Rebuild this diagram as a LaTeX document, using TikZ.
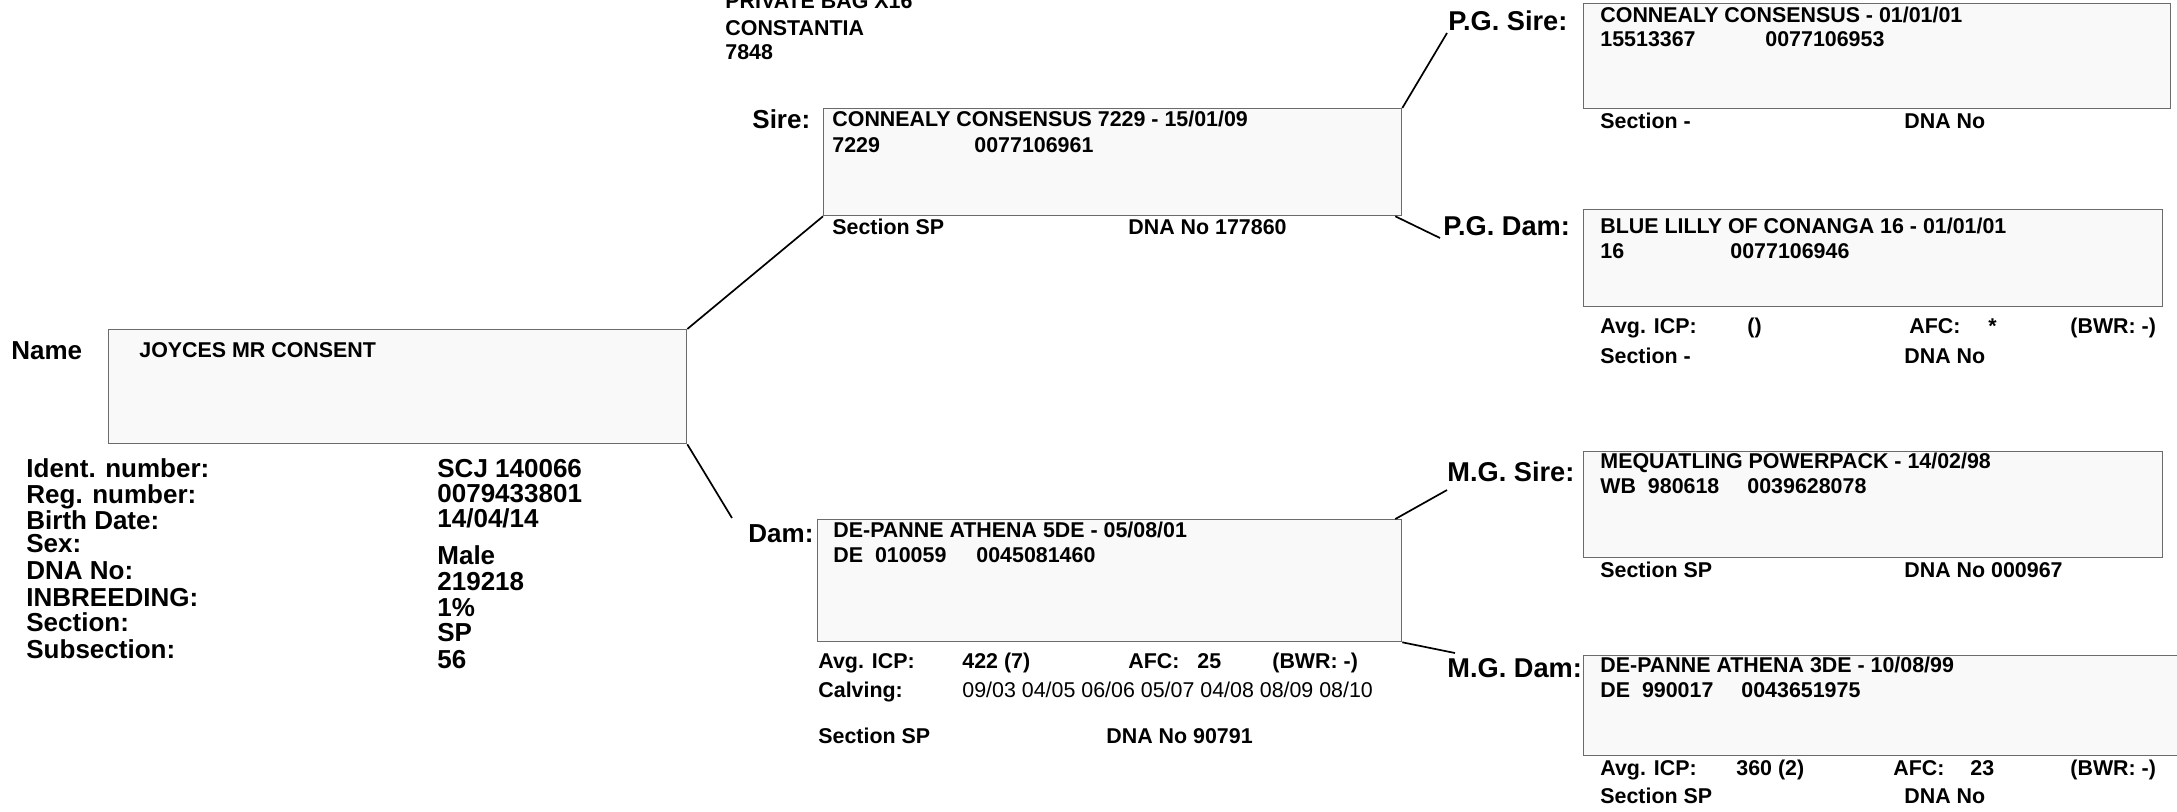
\documentclass[tikz,border=0pt]{standalone}
\usepackage{fontspec}
\setmainfont{Liberation Sans}
\definecolor{boxline}{gray}{0.42}
\definecolor{boxfill}{gray}{0.975}
\newcommand{\tagfont}{\fontsize{13}{15}\selectfont\bfseries}
\newcommand{\gtagfont}{\fontsize{13.6}{15}\selectfont\bfseries}
\newcommand{\pedfont}{\fontsize{10.7}{12}\selectfont\bfseries}

\begin{document}
\begin{tikzpicture}[x=0.5pt, y=-0.5pt,
    pbox/.style={draw=boxline, fill=boxfill, line width=0.65pt, anchor=north west, inner sep=0pt},
    tag/.style={anchor=base west, inner sep=0pt, font=\tagfont},
    gtag/.style={anchor=base west, inner sep=0pt, font=\gtagfont},
    ped/.style={anchor=base west, inner sep=0pt, font=\pedfont},
    plain/.style={anchor=base west, inner sep=0pt, font=\fontsize{10.7}{12}\selectfont},
    link/.style={line width=0.85pt}]
\useasboundingbox (0,0) rectangle (2177,811);

% address
\node[ped] (addr1) at (725,8) {PRIVATE BAG X16};
\node[ped] (addr2) at (725,35) {CONSTANTIA};
\node[ped] (addr3) at (725,59) {7848};

% animal
\node[tag] (lname) at (11,359) {Name};
\node[pbox, minimum width=289pt, minimum height=57pt] (main) at (108,329) {};
\node[ped] (mainname) at (139,357) {JOYCES MR CONSENT};

\node[tag] (lident) at (26,477.5) {Ident. number:};
\node[tag] (lreg) at (26,503.5) {Reg. number:};
\node[tag] (lbirth) at (26,529) {Birth Date:};
\node[tag] (lsex) at (26,552) {Sex:};
\node[tag] (ldna) at (26,579) {DNA No:};
\node[tag] (linb) at (26,606) {INBREEDING:};
\node[tag] (lsec) at (26,631.5) {Section:};
\node[tag] (lsub) at (26,658.5) {Subsection:};
\node[tag] (vident) at (437,477.5) {SCJ 140066};
\node[tag] (vreg) at (437,502) {0079433801};
\node[tag] (vbirth) at (437,527.5) {14/04/14};
\node[tag] (vsex) at (437,564) {Male};
\node[tag] (vdna) at (437,590.5) {219218};
\node[tag] (vinb) at (437,616.5) {1\%};
\node[tag] (vsec) at (437,641) {SP};
\node[tag] (vsub) at (437,668) {56};

% sire
\node[tag] (lsire) at (752,128) {Sire:};
\node[pbox, minimum width=289pt, minimum height=53.5pt] (sire) at (823,108) {};
\node[ped] (sire1) at (832,126) {CONNEALY CONSENSUS 7229 - 15/01/09};
\node[ped] (sire2) at (832,152) {7229};
\node[ped] (sire3) at (974,152) {0077106961};
\node[ped] (sire4) at (832,234) {Section SP};
\node[ped] (sire5) at (1128,234) {DNA No 177860};

% dam
\node[tag] (ldam) at (748,542) {Dam:};
\node[pbox, minimum width=292pt, minimum height=61pt] (dam) at (817,519) {};
\node[ped] (dam1) at (833,537) {DE-PANNE ATHENA 5DE - 05/08/01};
\node[ped] (dam2) at (833,562) {DE~~010059};
\node[ped] (dam3) at (976,562) {0045081460};
\node[ped] (dam4) at (818,668) {Avg. ICP:};
\node[ped] (dam5) at (962,668) {422 (7)};
\node[ped] (dam6) at (1128,668) {AFC:};
\node[ped] (dam7) at (1197,668) {25};
\node[ped] (dam8) at (1272,668) {(BWR: -)};
\node[ped] (dam9) at (818,697) {Calving:};
\node[plain] (dam10) at (962,697) {09/03 04/05 06/06 05/07 04/08 08/09 08/10};
\node[ped] (dam11) at (818,743) {Section SP};
\node[ped] (dam12) at (1106,743) {DNA No 90791};

% paternal grandsire
\node[gtag] (lpgsire) at (1448,30) {P.G. Sire:};
\node[pbox, minimum width=293.5pt, minimum height=52.5pt] (pgsire) at (1583,3) {};
\node[ped] (pgs1) at (1600,22) {CONNEALY CONSENSUS - 01/01/01};
\node[ped] (pgs2) at (1600,46) {15513367};
\node[ped] (pgs3) at (1765,46) {0077106953};
\node[ped] (pgs4) at (1600,128) {Section -};
\node[ped] (pgs5) at (1904,128) {DNA No};

% paternal granddam
\node[gtag] (lpgdam) at (1443,235) {P.G. Dam:};
\node[pbox, minimum width=289.5pt, minimum height=48.5pt] (pgdam) at (1583,209) {};
\node[ped] (pgd1) at (1600,233) {BLUE LILLY OF CONANGA 16 - 01/01/01};
\node[ped] (pgd2) at (1600,258) {16};
\node[ped] (pgd3) at (1730,258) {0077106946};
\node[ped] (pgd4) at (1600,333) {Avg. ICP:};
\node[ped] (pgd5) at (1747,333) {()};
\node[ped] (pgd6) at (1909,333) {AFC:};
\node[ped] (pgd7) at (1988,333) {*};
\node[ped] (pgd8) at (2070,333) {(BWR: -)};
\node[ped] (pgd9) at (1600,363) {Section -};
\node[ped] (pgd10) at (1904,363) {DNA No};

% maternal grandsire
\node[gtag] (lmgsire) at (1447,481) {M.G. Sire:};
\node[pbox, minimum width=289.5pt, minimum height=53pt] (mgsire) at (1583,451) {};
\node[ped] (mgs1) at (1600,468) {MEQUATLING POWERPACK - 14/02/98};
\node[ped] (mgs2) at (1600,493) {WB~~980618};
\node[ped] (mgs3) at (1747,493) {0039628078};
\node[ped] (mgs4) at (1600,577) {Section SP};
\node[ped] (mgs5) at (1904,577) {DNA No 000967};

% maternal granddam
\node[gtag] (lmgdam) at (1447,677) {M.G. Dam:};
\node[pbox, minimum width=308.5pt, minimum height=50pt] (mgdam) at (1583,655) {};
\node[ped] (mgd1) at (1600,672) {DE-PANNE ATHENA 3DE - 10/08/99};
\node[ped] (mgd2) at (1600,697) {DE~~990017};
\node[ped] (mgd3) at (1741,697) {0043651975};
\node[ped] (mgd4) at (1600,775) {Avg. ICP:};
\node[ped] (mgd5) at (1736,775) {360 (2)};
\node[ped] (mgd6) at (1893,775) {AFC:};
\node[ped] (mgd7) at (1970,775) {23};
\node[ped] (mgd8) at (2070,775) {(BWR: -)};
\node[ped] (mgd9) at (1600,803) {Section SP};
\node[ped] (mgd10) at (1904,803) {DNA No};

% connectors
\coordinate (damin) at (732,518);
\coordinate (pgsirein) at (1447,33);
\coordinate (pgdamin) at (1440,238);
\coordinate (mgsirein) at (1447,490);
\coordinate (mgdamin) at (1455,653);
\draw[link] (main.north east) -- (sire.south west);
\draw[link] (main.south east) -- (damin);
\draw[link] (sire.north east) -- (pgsirein);
\draw[link] ([xshift=-3.5pt]sire.south east) -- (pgdamin);
\draw[link] ([xshift=-3.5pt]dam.north east) -- (mgsirein);
\draw[link] (dam.south east) -- (mgdamin);
\end{tikzpicture}
\end{document}
